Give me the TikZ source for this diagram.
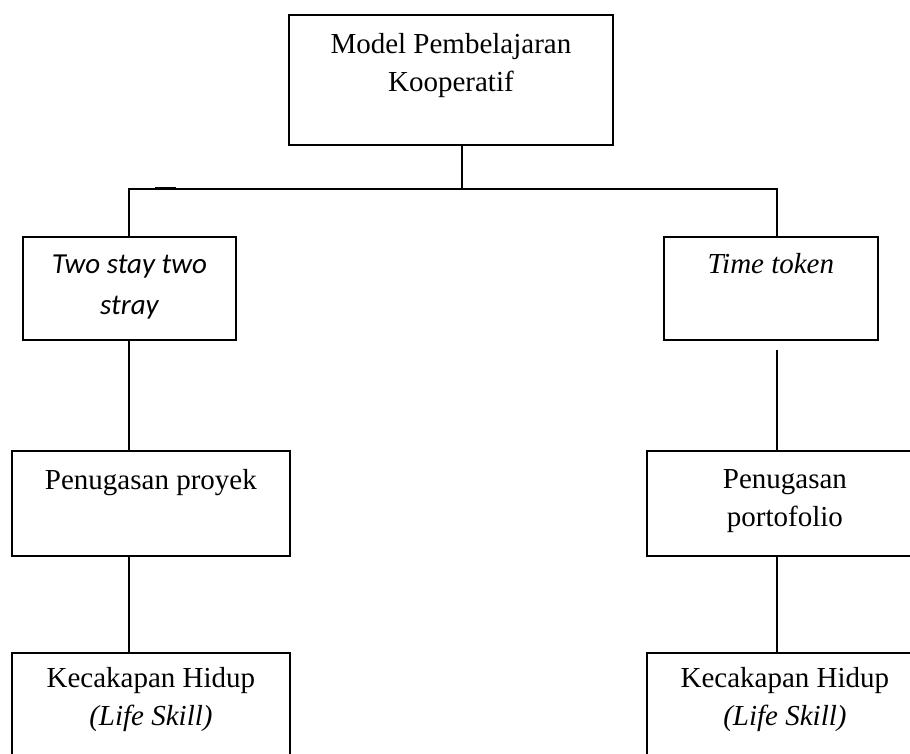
\documentclass[tikz,border=0pt]{standalone}
\usepackage{fontspec}
\setmainfont{Liberation Serif}
\newfontfamily\calibri{Carlito}
\usetikzlibrary{positioning}

\begin{document}
\begin{tikzpicture}[x=1pt,y=-1pt,
box/.style={draw, line width=1.8pt, anchor=north west, inner sep=0pt},
txt/.style={anchor=north, inner sep=0pt, align=center, font=\fontsize{29}{38.5}\selectfont},
conn/.style={line width=1.5pt}]
\useasboundingbox (0,0) rectangle (910,754);
\clip (0,0) rectangle (910,754);

\node[box, minimum width=324pt, minimum height=130pt] (model) at (288,14) {};
\node[box, minimum width=213pt, minimum height=103pt] (tsts) at (22,236) {};
\node[box, minimum width=214pt, minimum height=103pt] (tt) at (663,236) {};
\node[box, minimum width=278pt, minimum height=105pt] (pproj) at (11,450) {};
\node[box, minimum width=276pt, minimum height=105pt] (pport) at (646,450) {};
\node[box, minimum width=278pt, minimum height=130pt] (kec1) at (11,652) {};
\node[box, minimum width=276pt, minimum height=130pt] (kec2) at (646,652) {};

\node[txt] (modeltxt) at ([yshift=-19pt]model.north) {Model Pembelajaran\\Kooperatif};
\node[txt, font=\calibri\itshape\fontsize{29}{41}\selectfont] (tststxt) at ([yshift=-19pt]tsts.north) {Two stay two\\stray};
\node[txt, font=\itshape\fontsize{29}{38.5}\selectfont] (tttxt) at ([yshift=-17pt]tt.north) {Time token};
\node[txt] (pprojtxt) at ([yshift=-19pt]pproj.north) {Penugasan proyek};
\node[txt] (pporttxt) at ([yshift=-19pt]pport.north) {Penugasan\\portofolio};
\node[txt] (kec1txt) at ([yshift=-15pt]kec1.north) {Kecakapan Hidup\\\textit{(Life Skill)}};
\node[txt] (kec2txt) at ([yshift=-15pt]kec2.north) {Kecakapan Hidup\\\textit{(Life Skill)}};

\coordinate (joinL) at (129,189);
\coordinate (joinM) at (462,189);
\coordinate (joinR) at (777,189);
\coordinate (gapR) at (777,350);

\draw[conn] (joinM |- model.south) -- (joinM);
\draw[conn] (joinL |- tsts.north) -- (joinL) -- (joinR) -- (joinR |- tt.north);
\draw[line width=2.4pt] (155,188) -- (176,188);
\draw[conn] (joinL |- tsts.south) -- (joinL |- pproj.north);
\draw[conn] (joinL |- pproj.south) -- (joinL |- kec1.north);
\draw[conn] (gapR) -- (gapR |- pport.north);
\draw[conn] (gapR |- pport.south) -- (gapR |- kec2.north);
\end{tikzpicture}
\end{document}
